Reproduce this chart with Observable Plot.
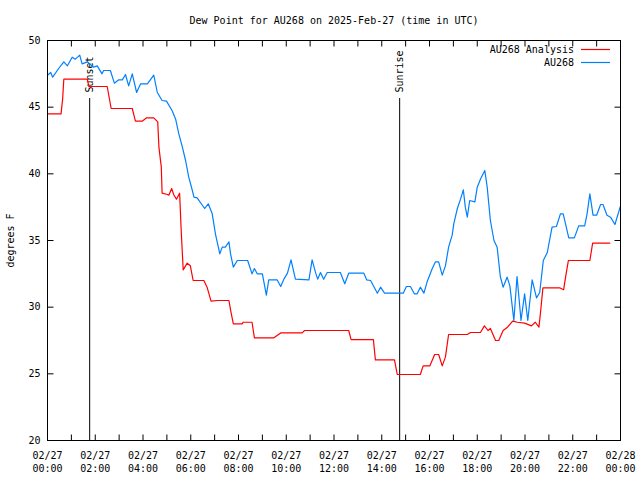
<!DOCTYPE html>
<html><head><meta charset="utf-8">
<script src="https://cdn.jsdelivr.net/npm/d3@7"></script>
<script src="https://cdn.jsdelivr.net/npm/@observablehq/plot@0.6"></script>
<style>body{margin:0;background:#fff} #chart{width:640px;height:480px}</style>
</head><body><div id="chart"></div>
<script>
const titleText = "Dew Point for AU268 on 2025-Feb-27 (time in UTC)";
const yLabel = "degrees F";
const seriesNames = ["AU268 Analysis", "AU268"];
const seriesColors = ["#ff0000", "#0080ff"];
const yTicks = [20, 25, 30, 35, 40, 45, 50];

// AU268 observations (time UTC, °F)
const obsTimes = ["00:00","00:08","00:13","00:28","00:41","00:50","01:02","01:10","01:21","01:27","01:40","01:56","02:05","02:17","02:21","02:38","02:48","02:59","03:08","03:16","03:24","03:33","03:44","03:54","04:11","04:27","04:36","04:48","04:59","05:13","05:22","05:30","05:39","05:47","05:55","06:04","06:08","06:16","06:35","06:44","06:54","07:02","07:13","07:19","07:27","07:36","07:40","07:47","07:57","08:23","08:34","08:40","08:47","09:00","09:10","09:16","09:37","09:46","09:54","10:03","10:12","10:23","10:57","11:05","11:14","11:19","11:26","11:34","11:43","12:16","12:27","12:37","13:15","13:22","13:32","13:49","13:57","14:07","14:54","15:02","15:12","15:22","15:29","15:37","15:46","15:54","16:07","16:15","16:23","16:32","16:40","16:48","16:57","17:01","17:10","17:18","17:25","17:30","17:35","17:41","17:54","18:00","18:08","18:19","18:25","18:33","18:42","18:50","18:58","19:05","19:15","19:22","19:32","19:40","19:50","19:59","20:07","20:18","20:29","20:37","20:46","20:56","21:08","21:19","21:29","21:36","21:50","22:04","22:15","22:30","22:36","22:43","22:51","23:00","23:10","23:16","23:26","23:35","23:46","24:00"];
const obsValues = [47.4,47.6,47.25,47.9,48.4,48.1,48.75,48.6,48.9,48.25,48.4,48.0,48.1,47.5,47.75,47.75,46.8,47.05,47.05,47.45,46.6,47.5,46.1,46.75,46.75,47.4,46.1,45.5,45.45,44.75,44.1,43.0,42.0,41.0,39.75,38.75,38.25,38.2,37.4,37.75,37.0,35.5,34.0,34.5,34.5,34.9,34.0,33.0,33.5,33.5,32.5,32.9,32.5,32.5,30.9,32.05,32.05,31.55,32.1,32.55,33.55,32.1,32.05,33.55,32.55,32.1,32.6,32.1,32.6,32.6,31.75,32.55,32.55,32.05,32.0,31.05,31.5,31.05,31.05,31.55,31.55,31.0,31.0,31.5,31.05,31.9,32.9,33.4,33.4,32.4,33.1,34.5,35.4,36.25,37.4,38.1,38.8,37.5,36.75,38.0,37.9,39.0,39.6,40.25,39.0,36.5,35.0,34.5,32.3,31.5,32.25,31.6,29.0,32.3,29.0,31.0,29.0,32.05,30.7,31.1,33.5,34.1,36.0,36.05,37.0,37.0,35.2,35.2,36.1,36.1,37.0,38.5,36.9,36.9,37.7,37.7,36.9,36.75,36.2,37.6];

// AU268 Analysis (time UTC, °F)
const anaTimes = ["00:00","00:34","00:38","00:41","01:40","01:44","02:30","02:40","03:33","03:41","03:58","04:09","04:27","04:37","04:40","04:46","04:48","05:01","05:05","05:12","05:17","05:24","05:32","05:36","05:41","05:51","05:59","06:06","06:33","06:41","06:51","07:08","07:36","07:40","07:47","08:09","08:12","08:34","08:40","09:29","09:46","10:40","10:46","12:37","12:43","13:39","13:44","14:32","14:39","15:37","15:44","16:01","16:13","16:23","16:32","16:40","16:48","17:35","17:43","18:08","18:18","18:27","18:33","18:46","18:54","19:05","19:16","19:29","19:41","19:59","20:16","20:26","20:35","20:39","20:45","21:27","21:37","21:42","21:49","22:43","22:50","23:33"];
const anaValues = [44.5,44.5,45.6,47.1,47.1,46.55,46.55,44.9,44.9,43.95,43.95,44.2,44.2,43.9,42.0,40.5,38.55,38.45,38.4,38.9,38.45,38.1,38.55,35.75,32.8,33.3,33.1,32.0,32.0,31.5,30.45,30.5,30.5,29.8,28.75,28.75,28.87,28.87,27.7,27.7,28.07,28.07,28.25,28.25,27.57,27.57,26.05,26.05,24.95,24.95,25.6,25.6,26.45,26.45,25.6,26.25,27.95,27.95,28.1,28.1,28.6,28.25,28.4,27.5,27.5,28.25,28.5,28.95,28.87,28.8,28.6,28.87,28.5,29.6,31.45,31.45,31.3,32.25,33.5,33.5,34.8,34.8];

const sunNames = ["Sunset", "Sunrise"];
const sunTimes = ["01:46", "14:45"];

function toDate(hm) {
  const [h, m] = hm.split(":").map(Number);
  return new Date(Date.UTC(2025, 1, 27, 0, h * 60 + m));
}
const obs = obsTimes.map((t, i) => ({t: toDate(t), v: obsValues[i]}));
const ana = anaTimes.map((t, i) => ({t: toDate(t), v: anaValues[i]}));
const sun = sunNames.map((n, i) => ({name: n, t: toDate(sunTimes[i])}));

const x0 = toDate("00:00"), x1 = toDate("24:00");
const yMin = yTicks[0], yMax = yTicks[yTicks.length - 1];
const hourly = d3.utcHour.range(x0, new Date(+x1 + 1));
const every2 = d3.utcHour.every(2).range(x0, new Date(+x1 + 1));
const fDay = d3.utcFormat("%m/%d"), fTime = d3.utcFormat("%H:%M");
// tick length: about 6 px in each direction, expressed in data units
const tickY = (yMax - yMin) * 6 / 400;
const tickX = (x1 - x0) * 6 / 573;

const chart = Plot.plot({
  width: 640, height: 480,
  marginLeft: 47, marginRight: 20, marginTop: 40, marginBottom: 40,
  style: {fontFamily: "'DejaVu Sans Mono', monospace", fontSize: "10px", background: "white", color: "black"},
  x: {type: "utc", domain: [x0, x1]},
  y: {domain: [yMin, yMax]},
  marks: [
    // inward tick marks on all four sides
    Plot.link(hourly, {x1: d => d, x2: d => d, y1: yMin, y2: yMin + tickY, stroke: "black"}),
    Plot.link(hourly, {x1: d => d, x2: d => d, y1: yMax, y2: yMax - tickY, stroke: "black"}),
    Plot.link(yTicks, {y1: d => d, y2: d => d, x1: x0, x2: new Date(+x0 + tickX), stroke: "black"}),
    Plot.link(yTicks, {y1: d => d, y2: d => d, x1: x1, x2: new Date(+x1 - tickX), stroke: "black"}),
    Plot.axisX({anchor: "bottom", ticks: every2, tickSize: 0, tickPadding: 10, lineHeight: 1.25,
      tickFormat: d => fDay(d) + "\n" + fTime(d), label: null}),
    Plot.axisY({anchor: "left", ticks: yTicks, tickSize: 0, tickPadding: 7, label: null}),
    Plot.ruleX(sun, {x: "t", y1: yMin, y2: 45.65, stroke: "black", strokeWidth: 1}),
    Plot.text(sun, {x: "t", y: 46.1, text: "name", rotate: -90, textAnchor: "start", lineAnchor: "middle"}),
    Plot.line(ana, {x: "t", y: "v", stroke: seriesColors[0], strokeWidth: 1.2}),
    Plot.line(obs, {x: "t", y: "v", stroke: seriesColors[1], strokeWidth: 1.2}),
    Plot.frame({stroke: "black"}),
    Plot.text([titleText], {frameAnchor: "top", dy: -20, lineAnchor: "middle"}),
    Plot.text([yLabel], {frameAnchor: "left", dx: -37, rotate: -90, textAnchor: "middle", lineAnchor: "middle"})
  ]
});

// legend (top-right, inside the frame)
const svg = d3.select(chart);
seriesNames.forEach((name, i) => {
  const yy = 50 + i * 13;
  svg.append("text").attr("x", 574).attr("y", yy).attr("dy", "0.32em")
    .attr("text-anchor", "end").attr("fill", "black").text(name);
  svg.append("line").attr("x1", 581).attr("x2", 610).attr("y1", yy - 0.5).attr("y2", yy - 0.5)
    .attr("stroke", seriesColors[i]).attr("stroke-width", 1.2);
});
document.getElementById("chart").append(chart);
</script>
</body></html>
